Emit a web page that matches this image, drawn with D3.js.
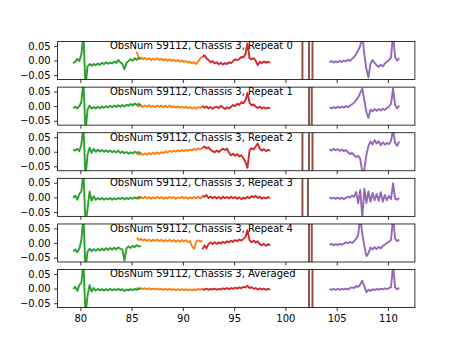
<!DOCTYPE html>
<html>
<head>
<meta charset="utf-8">
<script src="https://cdn.jsdelivr.net/npm/d3@7"></script>
<style>
  html, body { margin: 0; padding: 0; background: #fff; }
  svg { display: block; }
  text { font-family: "DejaVu Sans", sans-serif; font-size: 10px; fill: #000; }
</style>
</head>
<body>
<svg id="chart" width="461" height="346"></svg>
<script>
// Panel titles, one per repeat plus the average
const panelTitles = [
  "ObsNum 59112, Chassis 3, Repeat 0",
  "ObsNum 59112, Chassis 3, Repeat 1",
  "ObsNum 59112, Chassis 3, Repeat 2",
  "ObsNum 59112, Chassis 3, Repeat 3",
  "ObsNum 59112, Chassis 3, Repeat 4",
  "ObsNum 59112, Chassis 3, Averaged"
];
const xTicks = [80, 85, 90, 95, 100, 105, 110];
const yTicks = [-0.05, 0.00, 0.05];

// Spectra are sampled on a regular frequency grid (GHz)
const sampleStep = 0.2;
const greenStart = 79.3;
const orangeStart = 85.5;
const redStart = 91.9;
const purpleStart = 104.3;

// Band 1 (green), one row per panel
const green = [
  [-0.009,-0.004,0.006,-0.002,0.02,0.09,-0.09,-0.02,-0.012,-0.018,-0.012,-0.016,-0.01,-0.015,-0.008,-0.013,-0.006,-0.011,-0.007,-0.01,-0.004,-0.008,0.002,-0.006,-0.012,-0.03,-0.008,-0.002,0.004,-0.001,0.008,0.002,0.009,0.004],
  [-0.007,-0.002,-0.008,0,0.015,0.09,-0.09,-0.012,0.002,-0.009,-0.003,-0.008,-0.002,-0.007,-0.001,-0.006,0,-0.005,0.001,-0.004,0.002,-0.003,0.003,-0.002,0.004,-0.001,0.005,0.001,0.007,0.002,0.009,0.004,0.008,0.003],
  [0.008,0.004,0.01,0.002,0.025,0.09,-0.09,-0.01,0.014,-0.004,0.01,0,0.007,0.001,0.006,0,0.005,-0.001,0.004,-0.002,0.003,-0.003,0.004,-0.004,0.001,-0.005,-0.001,-0.007,-0.002,-0.006,0,-0.004,-0.001,-0.005],
  [-0.002,0.006,-0.008,0.012,0.02,0.09,-0.09,-0.04,0.02,-0.012,0.004,-0.008,-0.002,-0.007,-0.002,-0.008,-0.003,-0.007,-0.002,-0.008,-0.003,-0.007,-0.002,-0.006,-0.001,-0.007,-0.002,-0.006,-0.001,-0.005,0,-0.004,0.001,-0.003],
  [-0.028,-0.022,-0.032,-0.02,0.01,0.09,-0.09,-0.03,-0.02,-0.028,-0.021,-0.027,-0.02,-0.026,-0.019,-0.025,-0.018,-0.024,-0.017,-0.023,-0.016,-0.022,-0.015,-0.02,-0.022,-0.06,-0.018,-0.012,-0.017,-0.01,-0.014,-0.008,-0.012,-0.01],
  [-0.001,0.006,-0.008,0.012,0.02,0.09,-0.09,-0.025,0.012,-0.01,0.002,-0.007,-0.001,-0.006,-0.002,-0.007,-0.002,-0.006,-0.001,-0.006,-0.002,-0.005,-0.001,-0.006,-0.002,-0.008,-0.003,-0.006,-0.002,-0.005,-0.001,-0.004,0,-0.002]
];

// Band 2 (orange)
const orange = [
  [0.03,0.005,0.01,0.004,0.009,0.003,0.008,0.002,0.007,0.003,0.008,0.002,0.006,0,0.005,-0.001,0.004,-0.002,0.003,-0.003,0.002,-0.004,0,-0.005,-0.002,-0.007,-0.004,-0.01,-0.006,-0.012,-0.003,0.008,0.012],
  [0.004,-0.001,0.003,-0.003,0.002,-0.002,0.003,-0.003,0.001,-0.004,0.002,-0.003,0.002,-0.004,0.001,-0.003,0.002,-0.004,0,-0.005,-0.001,-0.005,-0.002,-0.006,-0.002,-0.007,-0.003,-0.008,-0.004,-0.009,-0.003,-0.006,-0.001],
  [-0.006,-0.01,-0.005,-0.011,-0.006,-0.01,-0.004,-0.009,-0.003,-0.008,-0.002,-0.007,-0.001,-0.005,0.001,-0.003,0.003,-0.001,0.004,0,0.005,0.001,0.006,0.002,0.006,0.003,0.008,0.005,0.01,0.006,0.012,0.008,0.013],
  [0,-0.005,0.001,-0.004,0.002,-0.004,0.001,-0.005,0,-0.004,0.002,-0.003,0.001,-0.005,0,-0.004,0.002,-0.003,0.001,-0.005,0,-0.003,0.002,-0.004,0.001,-0.005,0,-0.004,0.001,-0.003,0.002,-0.004,0.003],
  [0.018,0.01,0.014,0.008,0.013,0.007,0.012,0.006,0.011,0.007,0.012,0.006,0.011,0.005,0.01,0.006,0.011,0.005,0.01,0.004,0.009,0.004,0.01,0.005,0.009,0.003,0.006,-0.012,-0.02,0.004,0.009,0.005,0.008],
  [0.003,-0.001,0.002,-0.002,0.001,-0.002,0.001,-0.003,0,-0.003,0,-0.003,-0.001,-0.004,-0.001,-0.004,-0.001,-0.004,-0.002,-0.005,-0.002,-0.005,-0.002,-0.005,-0.002,-0.006,-0.003,-0.006,-0.003,-0.005,-0.001,-0.004,0]
];

// Band 3 (red)
const red = [
  [0.012,0.018,0.008,0.002,-0.006,-0.002,-0.01,-0.006,-0.013,-0.008,-0.014,-0.009,-0.012,-0.006,-0.009,-0.002,0.004,0.001,0.005,0.012,0.01,0.022,0.058,0.008,0.004,0.008,0,-0.016,-0.004,-0.009,-0.003,-0.008,-0.004,-0.008],
  [0.002,-0.006,-0.001,-0.008,-0.003,-0.009,-0.004,-0.002,-0.007,0.001,-0.005,-0.01,-0.004,-0.008,-0.002,0.004,0,0.008,0.004,0.013,0.01,0.02,0.045,0.012,0.002,0.006,-0.002,-0.006,-0.002,-0.008,-0.004,-0.009,-0.005,-0.008],
  [0.013,0.018,0.011,0.015,0.006,0.002,-0.002,0.004,-0.001,0.005,0.01,0.006,0.011,-0.004,-0.012,-0.007,-0.014,-0.008,-0.016,-0.012,-0.022,-0.035,-0.055,0.004,0.012,0.008,0.018,0.028,0.01,0.004,0.009,0.002,0.007,0.003],
  [0.006,0.002,0.008,-0.002,0.003,-0.003,0.002,-0.004,0.001,-0.005,0.002,-0.003,0.001,-0.004,0.002,-0.003,0.001,-0.005,0,-0.006,-0.001,-0.004,0.002,-0.003,0.004,0,0.005,-0.002,0.002,-0.005,0,-0.004,0.001,-0.003],
  [-0.022,-0.008,-0.018,-0.004,0.002,-0.004,0.003,-0.003,0.002,-0.002,0.004,0,0.006,0.002,0.008,0.004,0.01,0.006,0.012,0.008,0.014,0.02,0.044,0.01,0.002,0.008,0.001,0.006,-0.004,-0.008,-0.003,-0.01,-0.004,-0.008],
  [-0.001,-0.004,0,-0.004,-0.001,-0.003,0,-0.004,-0.001,-0.003,0.001,-0.002,0.002,-0.002,0.002,-0.001,0.003,0,0.004,0.001,0.006,0.004,0.01,0.002,0.005,-0.001,0.002,-0.003,0.001,-0.003,0,-0.004,-0.001,-0.003]
];

// Band 4 (purple)
const purple = [
  [-0.006,-0.002,-0.007,-0.003,-0.006,-0.001,-0.005,0,-0.003,0.003,-0.001,0.006,0.012,0.022,0.035,0.05,0.09,0.02,-0.03,-0.058,-0.01,0.002,-0.008,-0.016,-0.022,-0.014,-0.02,-0.01,-0.004,0.002,0.01,0.09,0.012,0,0.008],
  [-0.004,-0.008,-0.003,-0.007,-0.002,-0.006,-0.002,-0.005,0,-0.004,0.002,0.006,0.012,0.02,0.03,0.045,0.06,0.02,-0.02,-0.04,-0.012,-0.018,-0.01,-0.016,-0.01,-0.015,-0.009,-0.013,-0.006,-0.002,0.008,0.06,0.004,-0.008,0.002],
  [0.008,0.004,0.01,0.005,0.009,0.003,0.008,0.002,0.006,-0.002,-0.008,-0.004,-0.012,-0.018,-0.014,-0.025,-0.07,-0.06,-0.01,0.02,0.035,0.025,0.04,0.028,0.036,0.022,0.032,0.024,0.03,0.026,0.038,0.075,0.03,0.02,0.035],
  [0,-0.004,-0.001,-0.005,-0.001,-0.005,-0.002,-0.006,-0.002,0.002,-0.001,0.006,0.001,0.018,-0.02,0.025,-0.07,0.03,-0.02,0.02,-0.015,0.015,-0.01,0.012,-0.012,0.018,-0.015,0.008,-0.01,0.005,-0.006,0.048,-0.004,-0.008,-0.002],
  [-0.006,-0.003,-0.008,-0.004,-0.007,-0.003,-0.006,-0.002,0.002,-0.001,0.004,0,0.006,0.014,0.028,0.09,0.03,-0.01,-0.045,-0.035,-0.015,-0.022,-0.014,-0.021,-0.013,-0.019,-0.01,-0.006,0,0.004,0.01,0.09,0.015,0.006,0.012],
  [-0.002,-0.004,-0.001,-0.004,-0.001,-0.004,-0.001,-0.003,0,-0.003,0.002,0.004,0.002,0.008,0.006,0.014,0.027,0.008,-0.012,-0.004,-0.008,-0.002,-0.005,-0.001,-0.004,0,-0.003,0.001,-0.002,0.002,0.004,0.08,0.004,-0.002,0.003]
];

// Saturated channels (brown), drawn as full-height lines at these frequencies
const brownX = [
  [101.66, 102.3, 102.64],
  [102.3, 102.57],
  [101.66, 102.3, 102.64],
  [101.66, 102.2],
  [102.3, 102.57],
  [102.3, 102.64]
];

const seriesDefs = [
  { values: orange, start: orangeStart, color: "#ff7f0e" },
  { values: green,  start: greenStart,  color: "#2ca02c" },
  { values: red,    start: redStart,    color: "#d62728" },
  { values: purple, start: purpleStart, color: "#9467bd" }
];

// Figure geometry
const figLeft = 57.6, figRight = 414.9, figTop = 41.5, figBottom = 307.6;
const nPanels = panelTitles.length;
const panelH = (figBottom - figTop) / (nPanels + (nPanels - 1) * 0.2);
const panelGap = panelH * 0.2;

const x = d3.scaleLinear().domain([77.78, 112.63]).range([figLeft, figRight]);

const svg = d3.select("#chart");

panelTitles.forEach((title, p) => {
  const top = figTop + p * (panelH + panelGap);
  const y = d3.scaleLinear().domain([-0.065, 0.065]).range([top + panelH, top]);

  const g = svg.append("g");
  const clipId = "clip" + p;
  svg.append("clipPath").attr("id", clipId)
    .append("rect").attr("x", figLeft).attr("y", top)
    .attr("width", figRight - figLeft).attr("height", panelH);

  const plot = g.append("g").attr("clip-path", `url(#${clipId})`);

  seriesDefs.forEach(s => {
    const pts = s.values[p].map((v, i) => [s.start + i * sampleStep, v]);
    plot.append("path")
      .datum(pts)
      .attr("fill", "none")
      .attr("stroke", s.color)
      .attr("stroke-width", 1.9)
      .attr("stroke-linejoin", "round")
      .attr("d", d3.line().x(d => x(d[0])).y(d => y(d[1])));
  });

  plot.selectAll("line.brown")
    .data(brownX[p])
    .join("line")
    .attr("class", "brown")
    .attr("x1", d => x(d)).attr("x2", d => x(d))
    .attr("y1", y(-0.065)).attr("y2", y(0.065))
    .attr("stroke", "#8c564b")
    .attr("stroke-width", 2);

  // Axes
  const yAxis = d3.axisLeft(y).tickValues(yTicks).tickSize(3.5).tickPadding(3.5)
    .tickFormat(d => d3.format(".2f")(d).replace("-", "\u2212"));
  const ya = g.append("g").attr("transform", `translate(${figLeft},0)`).call(yAxis);

  const xAxis = d3.axisBottom(x).tickValues(xTicks).tickSize(3.5).tickPadding(3.5)
    .tickFormat(p === nPanels - 1 ? d3.format("d") : () => "");
  const xa = g.append("g").attr("transform", `translate(0,${top + panelH})`).call(xAxis);

  [ya, xa].forEach(a => {
    a.select(".domain").remove();
    a.selectAll(".tick line").attr("stroke", "#000").attr("stroke-width", 0.8);
    a.selectAll("text").attr("font-size", 10).attr("font-family", "DejaVu Sans, sans-serif").attr("fill", "#000");
  });
  xa.selectAll("text").attr("dy", "0.71em");

  // Frame
  g.append("rect")
    .attr("x", figLeft).attr("y", top)
    .attr("width", figRight - figLeft).attr("height", panelH)
    .attr("fill", "none").attr("stroke", "#000").attr("stroke-width", 0.8);

  g.append("text")
    .attr("x", 110).attr("y", top + 7.8)
    .attr("text-anchor", "start")
    .text(title);
});
</script>
</body>
</html>
